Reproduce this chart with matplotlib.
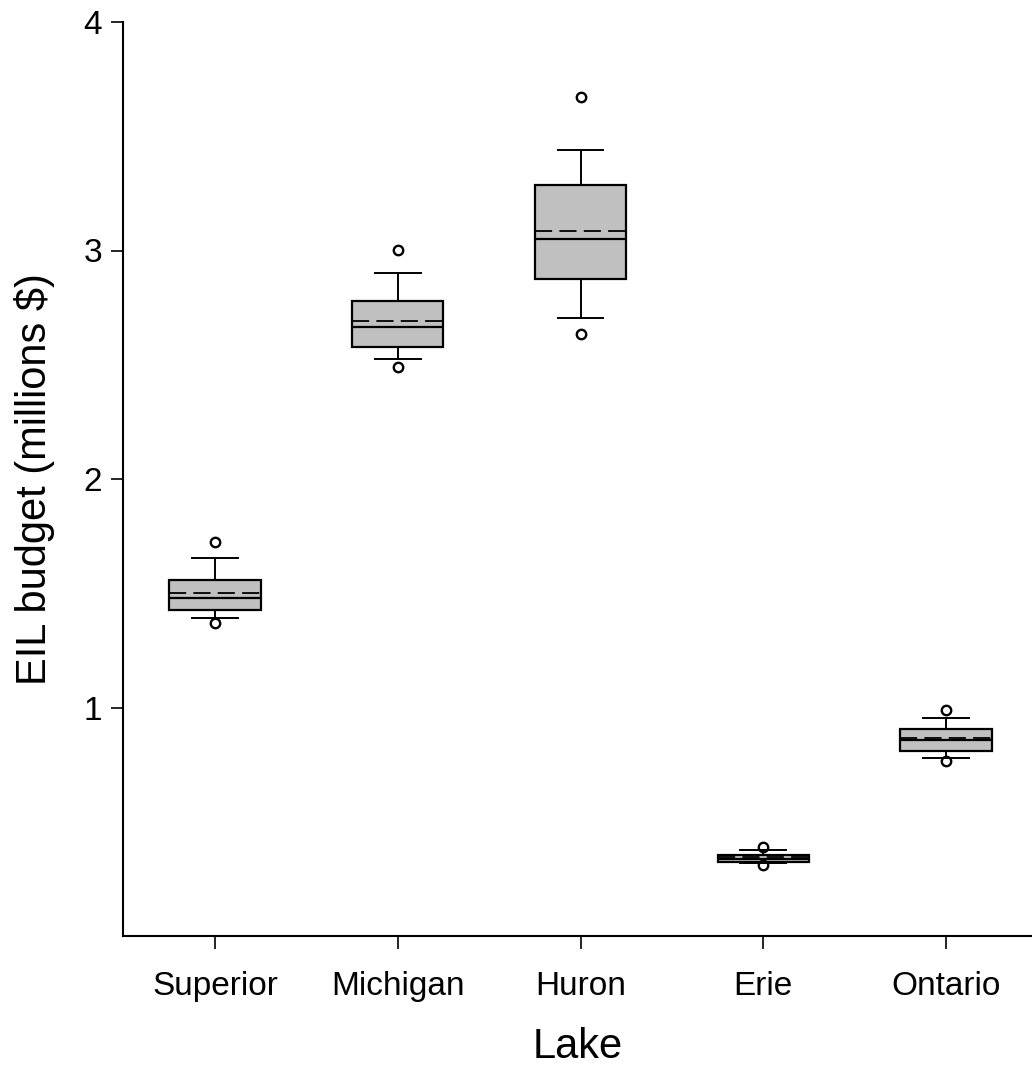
import matplotlib
matplotlib.use("Agg")
import matplotlib.pyplot as plt

lakes = ["Superior", "Michigan", "Huron", "Erie", "Ontario"]
out_hi = [1.725, 3.004, 3.672, 0.391, 0.988]
whis_hi = [1.655, 2.900, 3.441, 0.378, 0.952]
q3 = [1.557, 2.781, 3.285, 0.355, 0.905]
means = [1.502, 2.690, 3.084, 0.344, 0.865]
medians = [1.480, 2.664, 3.052, 0.339, 0.857]
q1 = [1.426, 2.576, 2.876, 0.322, 0.811]
whis_lo = [1.392, 2.524, 2.703, 0.319, 0.777]
out_lo = [1.371, 2.489, 2.633, 0.309, 0.766]
yticks = [1, 2, 3, 4]

plt.rcParams['font.family'] = ['Liberation Sans', 'DejaVu Sans']

fig = plt.figure(figsize=(10.32, 10.74), dpi=100)
ax = fig.add_axes([122.7 / 1032, 138 / 1074, 1 - 122.7 / 1032, (936 - 22) / 1074])

stats = []
for i, name in enumerate(lakes):
    stats.append(dict(label=name, whislo=whis_lo[i], q1=q1[i], med=medians[i],
                      q3=q3[i], whishi=whis_hi[i], mean=means[i],
                      fliers=[out_lo[i], out_hi[i]]))

ax.bxp(stats, positions=range(1, 6), widths=0.5, capwidths=0.25,
       patch_artist=True, showmeans=True, meanline=True,
       boxprops=dict(facecolor='#c0c0c0', edgecolor='black', linewidth=1.6),
       medianprops=dict(color='black', linewidth=1.6),
       meanprops=dict(color='black', linewidth=1.3, linestyle=(0, (9.5, 4))),
       whiskerprops=dict(color='black', linewidth=1.4),
       capprops=dict(color='black', linewidth=1.4),
       flierprops=dict(marker='o', markerfacecolor='none', markeredgecolor='black',
                       markersize=6.8, markeredgewidth=1.7))

ax.set_xlim(0.495, 5.47)
ax.set_ylim(0.0, 4.0)
ax.set_yticks(yticks)
ax.set_yticklabels([str(t) for t in yticks])
ax.set_xticks(range(1, 6))
ax.set_xticklabels(lakes)
ax.spines['top'].set_visible(False)
ax.spines['right'].set_visible(False)
ax.spines['left'].set_linewidth(1.5)
ax.spines['bottom'].set_linewidth(1.5)
ax.tick_params(axis='both', direction='out', length=9, width=1.2, labelsize=24)
ax.tick_params(axis='x', pad=16)
ax.tick_params(axis='y', pad=6)

ax.set_xlabel("Lake", fontsize=30, labelpad=18)
ax.set_ylabel("EIL budget (millions $)", fontsize=30, labelpad=20)

fig.savefig("out.png", dpi=100)
